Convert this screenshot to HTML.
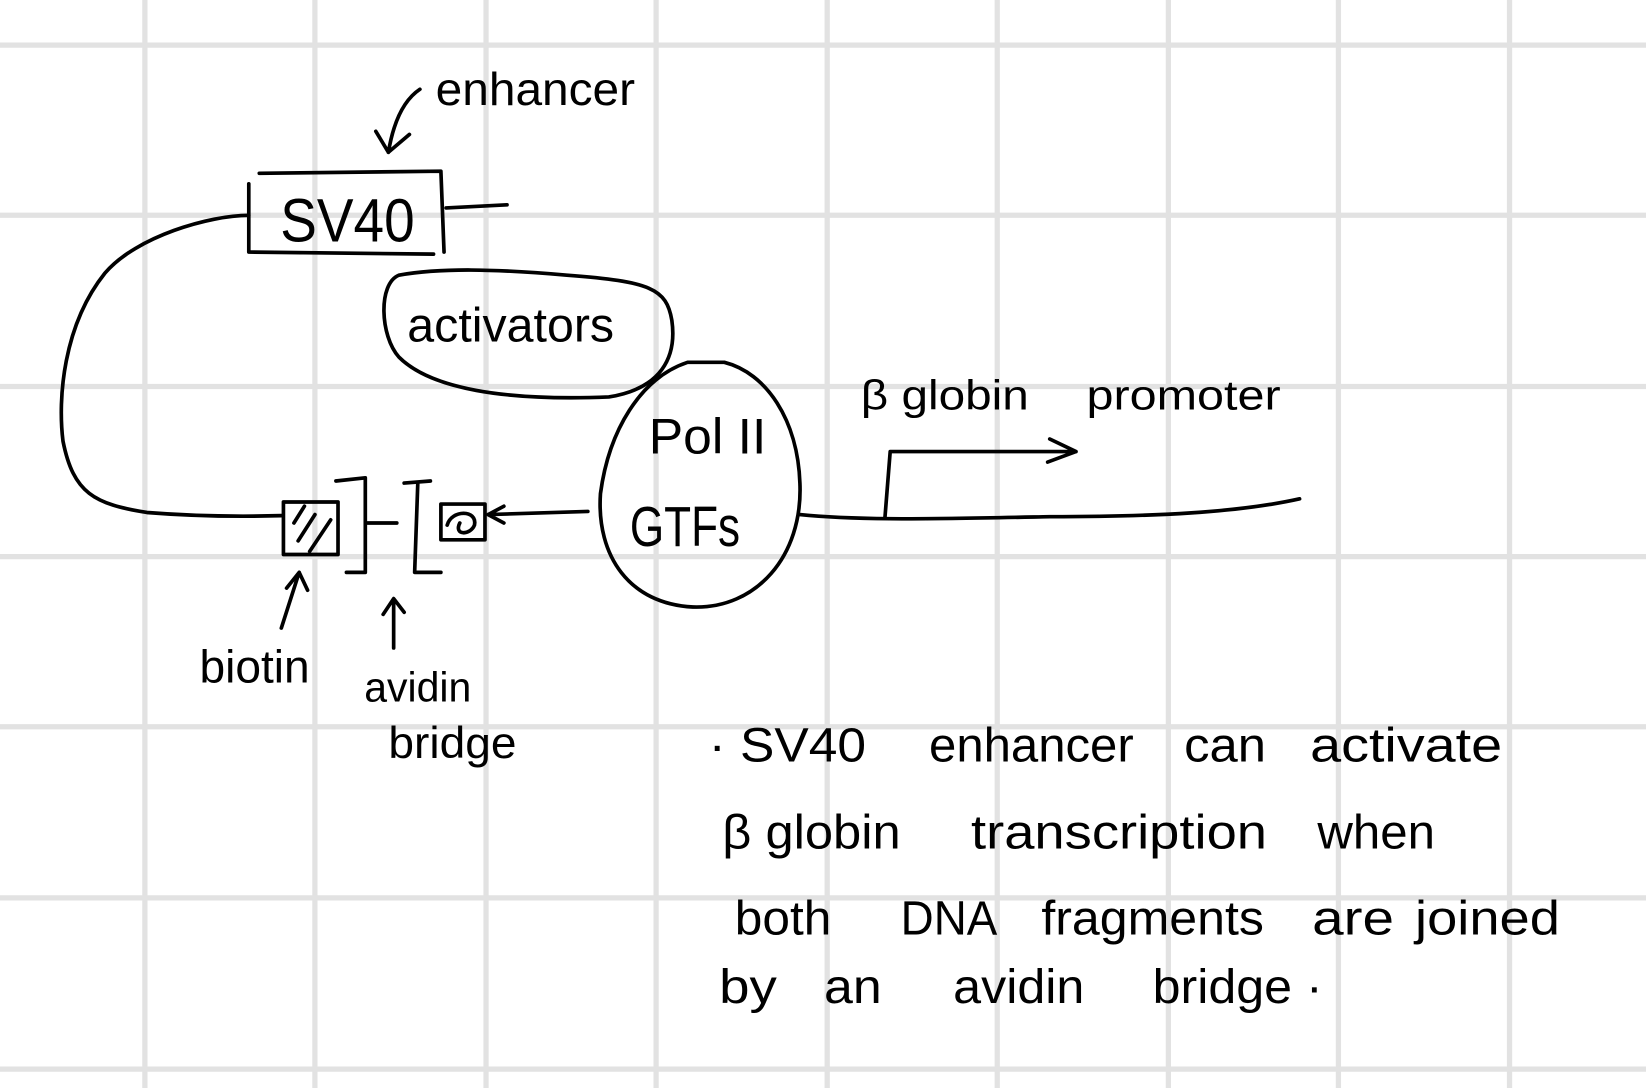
<!DOCTYPE html>
<html><head><meta charset="utf-8"><style>
html,body{margin:0;padding:0;background:#fff;}
svg{display:block;}
text{font-family:"Liberation Sans Narrow","Liberation Sans",sans-serif;fill:#000;}
</style></head><body>
<svg width="1646" height="1088" viewBox="0 0 1568 1036" preserveAspectRatio="none" xmlns="http://www.w3.org/2000/svg">
<rect width="1568" height="1036" fill="#fff"/>
<g stroke="#e2e2e2" stroke-width="5">
<line x1="138" y1="0" x2="138" y2="1036"/><line x1="300" y1="0" x2="300" y2="1036"/>
<line x1="463" y1="0" x2="463" y2="1036"/><line x1="625" y1="0" x2="625" y2="1036"/>
<line x1="788" y1="0" x2="788" y2="1036"/><line x1="950" y1="0" x2="950" y2="1036"/>
<line x1="1113" y1="0" x2="1113" y2="1036"/><line x1="1275" y1="0" x2="1275" y2="1036"/>
<line x1="1438" y1="0" x2="1438" y2="1036"/>
<line x1="0" y1="43" x2="1568" y2="43"/><line x1="0" y1="205" x2="1568" y2="205"/>
<line x1="0" y1="368" x2="1568" y2="368"/><line x1="0" y1="530" x2="1568" y2="530"/>
<line x1="0" y1="692" x2="1568" y2="692"/><line x1="0" y1="855" x2="1568" y2="855"/>
<line x1="0" y1="1018" x2="1568" y2="1018"/>
</g>
<g fill="none" stroke="#000" stroke-width="3.5" stroke-linecap="round" stroke-linejoin="round">
<path d="M237 175 L237 240 L413 242 M247 165 L420 163 L423 240"/>
<path d="M425 198 L483 195"/>
<path d="M237 205 C200 205 130 225 100 260 C60 310 55 380 60 420 C70 470 90 480 140 488 C190 492 230 492 268 491"/>
<path d="M400 85 C385 95 375 115 370 145 M358 125 L370 145 L390 128"/>
<path d="M380 262 C360 270 362 320 380 340 C410 370 480 382 580 378 C630 370 645 340 640 305 C635 275 620 268 540 262 C470 256 420 255 380 262 Z"/>
<path d="M655 345 C610 360 580 410 572 470 C568 530 600 575 660 578 C720 580 765 530 762 460 C760 400 730 355 690 345 Z"/>
<path d="M762 490 C820 496 900 494 1000 492 C1100 492 1180 488 1238 475"/>
<path d="M843 493 L848 430 L1025 430 M1000 418 L1025 430 L998 440"/>
<rect x="270" y="478" width="52" height="50"/>
<path d="M280 498 L290 482 M284 515 L300 490 M295 525 L315 495"/>
<path d="M320 458 L348 455 L348 545 L330 545"/>
<path d="M350 498 L378 498"/>
<path d="M385 460 L410 458 M398 460 L395 545 L420 545"/>
<rect x="420" y="480" width="42" height="34"/>
<path d="M426 500 C430 485 455 485 452 500 C448 510 432 510 438 498"/>
<path d="M465 490 L560 487 M465 490 L480 482 M465 490 L480 498"/>
<path d="M268 598 L285 545 M273 560 L285 545 L293 562"/>
<path d="M375 617 L375 572 M365 585 L375 570 L385 583"/>
</g>
<g lengthAdjust="spacingAndGlyphs">
<text x="267" y="230" font-size="58" textLength="128" lengthAdjust="spacingAndGlyphs">SV40</text>
<text x="415" y="100" font-size="44" textLength="190" lengthAdjust="spacingAndGlyphs">enhancer</text>
<text x="388" y="325" font-size="46" textLength="197" lengthAdjust="spacingAndGlyphs">activators</text>
<text x="618" y="432" font-size="48" textLength="112" lengthAdjust="spacingAndGlyphs">Pol II</text>
<text x="600" y="520" font-size="54" textLength="105" lengthAdjust="spacingAndGlyphs">GTFs</text>
<text x="820" y="390" font-size="40" textLength="160" lengthAdjust="spacingAndGlyphs">β globin</text>
<text x="1035" y="390" font-size="40" textLength="185" lengthAdjust="spacingAndGlyphs">promoter</text>
<text x="190" y="650" font-size="44" textLength="105" lengthAdjust="spacingAndGlyphs">biotin</text>
<text x="347" y="668" font-size="40" textLength="102" lengthAdjust="spacingAndGlyphs">avidin</text>
<text x="370" y="722" font-size="42" textLength="122" lengthAdjust="spacingAndGlyphs">bridge</text>
</g>
<g font-size="46">
<text x="675" y="725" textLength="150" lengthAdjust="spacingAndGlyphs">· SV40</text>
<text x="885" y="725" textLength="195" lengthAdjust="spacingAndGlyphs">enhancer</text>
<text x="1128" y="725" textLength="78" lengthAdjust="spacingAndGlyphs">can</text>
<text x="1248" y="725" textLength="183" lengthAdjust="spacingAndGlyphs">activate</text>
<text x="688" y="808" textLength="170" lengthAdjust="spacingAndGlyphs">β globin</text>
<text x="925" y="808" textLength="282" lengthAdjust="spacingAndGlyphs">transcription</text>
<text x="1255" y="808" textLength="112" lengthAdjust="spacingAndGlyphs">when</text>
<text x="700" y="890" textLength="92" lengthAdjust="spacingAndGlyphs">both</text>
<text x="858" y="890" textLength="92" lengthAdjust="spacingAndGlyphs">DNA</text>
<text x="992" y="890" textLength="212" lengthAdjust="spacingAndGlyphs">fragments</text>
<text x="1250" y="890" textLength="78" lengthAdjust="spacingAndGlyphs">are</text>
<text x="1348" y="890" textLength="138" lengthAdjust="spacingAndGlyphs">joined</text>
<text x="685" y="955" textLength="55" lengthAdjust="spacingAndGlyphs">by</text>
<text x="785" y="955" textLength="55" lengthAdjust="spacingAndGlyphs">an</text>
<text x="908" y="955" textLength="125" lengthAdjust="spacingAndGlyphs">avidin</text>
<text x="1098" y="955" textLength="162" lengthAdjust="spacingAndGlyphs">bridge ·</text>
</g>
</svg>
</body></html>
